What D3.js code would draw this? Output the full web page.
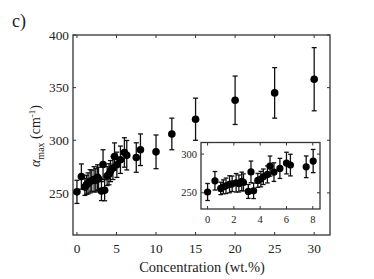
<!DOCTYPE html>
<html><head><meta charset="utf-8">
<script src="https://cdn.jsdelivr.net/npm/d3@7"></script>
<style>body{margin:0;background:#fff}svg{display:block}text{font-family:"Liberation Serif","Times New Roman",serif;fill:#222}</style>
</head><body><svg id="c" width="374" height="279"></svg>
<script>
const conc = [0,0.56,1.0,1.2,1.4,1.67,1.87,2.17,2.38,2.6,2.73,3.1,3.3,3.5,3.82,4.05,4.24,4.55,4.75,5.05,5.5,6.0,6.3,7.5,8.03,10,12,15,20,25,30];
const alpha = [251,265.5,255.6,257.7,259,261,261.6,262.9,262,264.7,263.4,251.7,277,252.5,266,267.7,270.7,273.7,284.5,276.7,281.5,288.4,285.8,283.6,291,289,306,320,338,345,358];
const err = [11,12,8,9,10,11,10,12,11,12,11,9,14,10,9,10,10,11,13,12,13,14,14,14,15,16,15,20,23,24,30];
const xTicks = [0,5,10,15,20,25,30];
const yTicks = [250,300,350,400];
const insetXTicks = [0,2,4,6,8];
const insetYTicks = [250,300];

const svg = d3.select("#c");
const col = "#333";

function panel(g, x, y, xt, yt, fs, r, capW, data, xoff) {
  const [x0,x1] = x.range(), [y0,y1] = y.range();
  g.append("rect").attr("x",x0).attr("y",y1).attr("width",x1-x0).attr("height",y0-y1)
    .attr("fill","#fff").attr("stroke",col).attr("stroke-width",1.3);
  const tl = 3;
  xt.forEach(t => {
    g.append("line").attr("x1",x(t)).attr("x2",x(t)).attr("y1",y0).attr("y2",y0-tl).attr("stroke",col);
    g.append("line").attr("x1",x(t)).attr("x2",x(t)).attr("y1",y1).attr("y2",y1+tl).attr("stroke",col);
    g.append("text").attr("x",x(t)).attr("y",y0+xoff).attr("text-anchor","middle").attr("font-size",fs).text(t);
  });
  yt.forEach(t => {
    g.append("line").attr("x1",x0).attr("x2",x0+tl).attr("y1",y(t)).attr("y2",y(t)).attr("stroke",col);
    g.append("line").attr("x1",x1).attr("x2",x1-tl).attr("y1",y(t)).attr("y2",y(t)).attr("stroke",col);
    g.append("text").attr("x",x0-4).attr("y",y(t)).attr("dy","0.35em").attr("text-anchor","end").attr("font-size",fs).text(t);
  });
  const pg = g.append("g");
  data.forEach(d => {
    const cx = x(d.c), cy = y(d.a), t = y(d.a+d.e), b = y(d.a-d.e);
    pg.append("line").attr("x1",cx).attr("x2",cx).attr("y1",t).attr("y2",b).attr("stroke","#111").attr("stroke-width",1.3);
    pg.append("line").attr("x1",cx-capW).attr("x2",cx+capW).attr("y1",t).attr("y2",t).attr("stroke","#111").attr("stroke-width",1.3);
    pg.append("line").attr("x1",cx-capW).attr("x2",cx+capW).attr("y1",b).attr("y2",b).attr("stroke","#111").attr("stroke-width",1.3);
  });
  data.forEach(d => {
    pg.append("circle").attr("cx",x(d.c)).attr("cy",y(d.a)).attr("r",r).attr("fill","#000");
  });
}

const data = conc.map((c,i)=>({c, a:alpha[i], e:err[i]}));

const x = d3.scaleLinear().domain([-0.5,32]).range([73,330]);
const y = d3.scaleLinear().domain([210,400]).range([235,35]);
panel(svg.append("g"), x, y, xTicks, yTicks, 13.3, 3.8, 2.5, data, 17.5);

const xi = d3.scaleLinear().domain([-0.5,8.55]).range([201,320]);
const yi = d3.scaleLinear().domain([229,315]).range([209,142.5]);
panel(svg.append("g"), xi, yi, insetXTicks, insetYTicks, 10.5, 3.6, 2.3, data.filter(d=>d.c<=8.1), 14);

svg.append("text").attr("x",12).attr("y",27).attr("font-size",18).text("c)");
svg.append("text").attr("x",202).attr("y",272).attr("text-anchor","middle").attr("font-size",14.5).text("Concentration (wt.%)");
const yl = svg.append("text").attr("transform","translate(40,136) rotate(-90)").attr("text-anchor","middle").attr("font-size",14);
yl.append("tspan").attr("font-style","italic").text("α");
yl.append("tspan").attr("font-size",10).attr("dy",4).text("max");
yl.append("tspan").attr("dy",-4).text(" (cm");
yl.append("tspan").attr("font-size",9).attr("dy",-5).text("-1");
yl.append("tspan").attr("dy",5).text(")");
</script></body></html>
